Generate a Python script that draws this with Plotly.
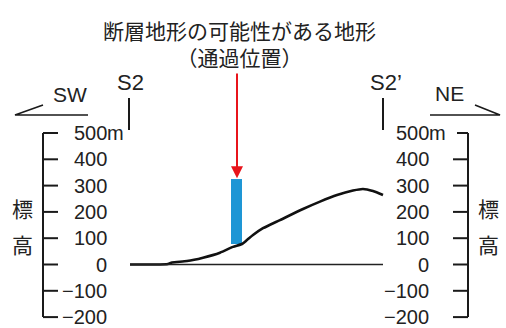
import plotly.graph_objects as go

# Terrain profile along section S2–S2' (horizontal distance, elevation in m)
profile_dist = [130, 153, 168, 172, 187, 203, 220, 233, 242, 247, 253, 263, 280,
                303, 320, 337, 353, 363, 373, 383]
profile_elev = [0, 0, 2, 8, 13, 26, 45, 67, 78, 93, 112, 138, 169,
                211, 239, 264, 281, 287, 279, 264]

# Sea-level reference line
baseline_dist = [130, 383]
baseline_elev = [0, 0]

# Position of the possible fault landform
fault_dist = 236.5
fault_width = 11
fault_bottom = 78
fault_top = 325

# Elevation scale
tick_values = [500, 400, 300, 200, 100, 0, -100, -200]
tick_labels = ["500", "400", "300", "200", "100", "0", "−100", "−200"]

W, H = 506, 328
ZERO_PX = 264.5          # pixel row of elevation 0
PX_PER_M = 0.263         # vertical scale
y_top = ZERO_PX / PX_PER_M
y_bottom = (ZERO_PX - H) / PX_PER_M

def elev_at(px):
    return (ZERO_PX - px) / PX_PER_M

INK = "#1a1a1a"
NUM_FONT = dict(family="Liberation Sans, Arial, sans-serif", size=20, color="#222")
JP_FONT = dict(family="Noto Sans CJK JP, sans-serif", size=21, color="#222")

fig = go.Figure()

# Ground profile
fig.add_trace(go.Scatter(x=profile_dist, y=profile_elev, mode="lines",
                         line=dict(color="#111", width=2.6, shape="spline", smoothing=0.6),
                         hoverinfo="skip"))
fig.add_trace(go.Scatter(x=baseline_dist, y=baseline_elev, mode="lines",
                         line=dict(color="#222", width=1.6), hoverinfo="skip"))

# Possible fault landform marker
fig.add_trace(go.Bar(x=[fault_dist], y=[fault_top - fault_bottom], base=[fault_bottom],
                     width=fault_width, marker=dict(color="#1E96D5", line=dict(width=0)),
                     hoverinfo="skip"))

# Elevation scales (left and right)
def scale(x_line, tick_dir, label_x, top_len):
    xs, ys = [x_line, x_line], [tick_values[0], tick_values[-1]]
    fig.add_trace(go.Scatter(x=xs, y=ys, mode="lines",
                             line=dict(color=INK, width=2), hoverinfo="skip"))
    tx, ty = [], []
    for i, v in enumerate(tick_values):
        length = top_len if i == 0 else 15
        tx += [x_line, x_line + tick_dir * length, None]
        ty += [v, v, None]
    fig.add_trace(go.Scatter(x=tx, y=ty, mode="lines",
                             line=dict(color=INK, width=2), hoverinfo="skip"))
    for v, t in zip(tick_values, tick_labels):
        fig.add_annotation(x=label_x, y=v, text=t, showarrow=False,
                           xanchor="right", yanchor="middle", font=NUM_FONT)
    fig.add_annotation(x=label_x, y=tick_values[0], text="m", showarrow=False,
                       xanchor="left", yanchor="middle", xshift=-4, font=NUM_FONT)

scale(43, +1, 109, 15)
scale(468, -1, 431, 11)

# Vertical axis titles
for xp in (22, 488):
    fig.add_annotation(x=xp, y=elev_at(208), text="標", showarrow=False,
                       xanchor="center", yanchor="middle", font=JP_FONT)
    fig.add_annotation(x=xp, y=elev_at(244), text="高", showarrow=False,
                       xanchor="center", yanchor="middle", font=JP_FONT)

# Section end markers
for xp in (129, 383):
    fig.add_trace(go.Scatter(x=[xp, xp], y=[elev_at(98), elev_at(130)], mode="lines",
                             line=dict(color=INK, width=2), hoverinfo="skip"))
fig.add_annotation(x=130, y=elev_at(82), text="S2", showarrow=False,
                   xanchor="center", yanchor="middle", font=dict(NUM_FONT, size=22))
fig.add_annotation(x=386, y=elev_at(82), text="S2’", showarrow=False,
                   xanchor="center", yanchor="middle", font=dict(NUM_FONT, size=22))

# Direction arrows
fig.add_trace(go.Scatter(x=[88, 15, 43], y=[elev_at(115), elev_at(115), elev_at(105)],
                         mode="lines", line=dict(color=INK, width=1.6), hoverinfo="skip"))
fig.add_trace(go.Scatter(x=[430, 500, 475], y=[elev_at(115), elev_at(115), elev_at(105)],
                         mode="lines", line=dict(color=INK, width=1.6), hoverinfo="skip"))
fig.add_annotation(x=70, y=elev_at(94), text="SW", showarrow=False,
                   xanchor="center", yanchor="middle", font=dict(NUM_FONT, size=21))
fig.add_annotation(x=449, y=elev_at(93), text="NE", showarrow=False,
                   xanchor="center", yanchor="middle", font=dict(NUM_FONT, size=21))

# Title and pointer
fig.add_annotation(x=239, y=elev_at(43.5),
                   text="断層地形の可能性がある地形<br>（通過位置）", showarrow=False,
                   xanchor="center", yanchor="middle", align="center", font=JP_FONT)
fig.add_annotation(x=fault_dist + 0.5, y=fault_top + 3, ax=fault_dist + 0.5, ay=elev_at(72),
                   axref="x", ayref="y", xref="x", yref="y", text="",
                   showarrow=True, arrowhead=2, arrowsize=1.2, arrowwidth=2,
                   arrowcolor="#E8141B")

fig.update_layout(
    width=W, height=H, margin=dict(l=0, r=0, t=0, b=0),
    paper_bgcolor="white", plot_bgcolor="white", showlegend=False,
    xaxis=dict(range=[0, W], visible=False, fixedrange=True),
    yaxis=dict(range=[y_bottom, y_top], visible=False, fixedrange=True),
)

fig.write_html("out.html")
